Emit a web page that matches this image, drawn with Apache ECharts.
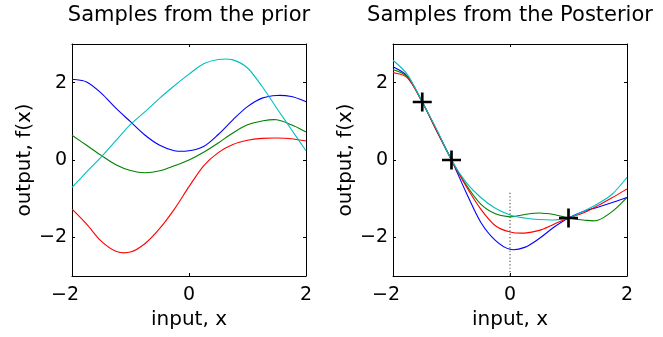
<!DOCTYPE html>
<html>
<head>
<meta charset="utf-8">
<script src="https://cdn.jsdelivr.net/npm/echarts@6/dist/echarts.min.js"></script>
<style>
  html, body { margin: 0; padding: 0; background: #fff; }
  #chart { width: 663px; height: 337px; }
</style>
</head>
<body>
<div id="chart"></div>
<script>
// ---- data ----
const xs = [-2, -1.75, -1.5, -1.25, -1, -0.75, -0.5, -0.25, 0, 0.25, 0.5, 0.75, 1, 1.25, 1.5, 1.75, 2];

const priorBlue  = [2.09, 2.02, 1.73, 1.34, 0.99, 0.64, 0.38, 0.24, 0.24, 0.35, 0.66, 1.04, 1.38, 1.60, 1.67, 1.64, 1.51];
const priorGreen = [0.64, 0.38, 0.12, -0.12, -0.27, -0.33, -0.28, -0.15, 0.0, 0.2, 0.44, 0.70, 0.91, 1.01, 1.04, 0.91, 0.73];
const priorRed   = [-1.27, -1.66, -2.10, -2.36, -2.38, -2.16, -1.77, -1.27, -0.69, -0.15, 0.19, 0.40, 0.51, 0.56, 0.57, 0.55, 0.49];
const priorCyan  = [-0.71, -0.31, 0.08, 0.50, 0.92, 1.25, 1.60, 1.92, 2.22, 2.49, 2.60, 2.59, 2.38, 1.90, 1.34, 0.79, 0.24];

const postBlue  = [2.41, 2.16, 1.5, 0.75, 0, -0.84, -1.61, -2.08, -2.31, -2.26, -2.03, -1.74, -1.5, -1.33, -1.22, -1.10, -0.97];
const postGreen = [2.34, 2.14, 1.5, 0.75, 0, -0.64, -1.14, -1.39, -1.47, -1.41, -1.37, -1.41, -1.5, -1.55, -1.56, -1.33, -0.97];
const postRed   = [2.26, 2.12, 1.5, 0.74, 0, -0.68, -1.27, -1.70, -1.86, -1.89, -1.82, -1.66, -1.5, -1.37, -1.18, -0.97, -0.75];
const postCyan  = [2.58, 2.20, 1.5, 0.78, 0, -0.58, -0.97, -1.25, -1.42, -1.50, -1.54, -1.55, -1.5, -1.33, -1.13, -0.88, -0.45];

const obsX = [-1.5, -1, 1];
const obsY = [1.5, 0, -1.5];

const dotX = [0, 0];
const dotY = [-0.85, -3];

const titles = ['Samples from the prior', 'Samples from the Posterior'];
const xName = 'input, x';
const yName = 'output, f(x)';
const tickVals = [-2, 0, 2];

// ---- build ----
const FONT = 'DejaVu Sans';
const zip = (a, b) => a.map((v, i) => [v, b[i]]);
const fmt = v => v < 0 ? '\u2212' + (-v) : String(v);
const COLORS = { blue: '#0000ff', green: '#008000', red: '#ff0000', cyan: '#00bfbf' };

const grids = [
  { left: 72, top: 42, width: 234, height: 234 },
  { left: 393, top: 42, width: 234, height: 234 }
];

const xAxes = [], yAxes = [];
const yGaps = [36, 33];
grids.forEach((g, i) => {
  xAxes.push({
    type: 'value', gridIndex: i, position: 'bottom', min: -2, max: 2, interval: 2,
    axisLine: { show: true, onZero: false, lineStyle: { color: '#000', width: 1 } },
    axisTick: { show: true, inside: true, length: 3, lineStyle: { color: '#000' } },
    splitLine: { show: false },
    axisLabel: {
      margin: 10, color: '#000',
      formatter: v => v < 0 ? '{n|' + fmt(v) + '}' : '{p|' + fmt(v) + '}',
      rich: {
        n: { fontFamily: FONT, fontSize: 19, color: '#000', padding: [0, 14, 0, 0] },
        p: { fontFamily: FONT, fontSize: 19, color: '#000' }
      }
    },
    name: xName, nameLocation: 'middle', nameGap: 31,
    nameTextStyle: { fontFamily: FONT, fontSize: 20, color: '#000' }
  });
  xAxes.push({
    type: 'value', gridIndex: i, position: 'top', min: -2, max: 2, interval: 2,
    axisLine: { show: true, onZero: false, lineStyle: { color: '#000', width: 1 } },
    axisTick: { show: true, inside: true, length: 3, lineStyle: { color: '#000' } },
    splitLine: { show: false },
    axisLabel: { show: false },
    name: titles[i], nameLocation: 'middle', nameGap: 18,
    nameTextStyle: { fontFamily: FONT, fontSize: 21, color: '#000' }
  });
  yAxes.push({
    type: 'value', gridIndex: i, position: 'left', min: -3, max: 3,
    axisLine: { show: true, onZero: false, lineStyle: { color: '#000', width: 1 } },
    axisTick: { show: true, inside: true, length: 3, customValues: tickVals, lineStyle: { color: '#000' } },
    splitLine: { show: false },
    axisLabel: { customValues: tickVals, formatter: fmt, margin: 5, color: '#000', fontFamily: FONT, fontSize: 19 },
    name: yName, nameLocation: 'middle', nameRotate: 90, nameGap: yGaps[i],
    nameTextStyle: { fontFamily: FONT, fontSize: 20, color: '#000' }
  });
  yAxes.push({
    type: 'value', gridIndex: i, position: 'right', min: -3, max: 3,
    axisLine: { show: true, onZero: false, lineStyle: { color: '#000', width: 1 } },
    axisTick: { show: true, inside: true, length: 3, customValues: tickVals, lineStyle: { color: '#000' } },
    splitLine: { show: false },
    axisLabel: { show: false }
  });
});

// smooth curve through the data points, positioned with the axes' own scales (api.coord)
function curve(ys, color, gi) {
  return {
    type: 'custom', coordinateSystem: 'cartesian2d',
    xAxisIndex: gi * 2, yAxisIndex: gi * 2,
    data: zip(xs, ys), encode: { x: 0, y: 1 }, silent: true, animation: false,
    renderItem: function (params, api) {
      if (params.dataIndex !== 0) return null;
      const p = xs.map((x, i) => api.coord([x, ys[i]]));
      let d = 'M' + p[0][0] + ',' + p[0][1];
      for (let i = 0; i < p.length - 1; i++) {
        const p0 = p[i - 1] || p[i], p1 = p[i], p2 = p[i + 1], p3 = p[i + 2] || p[i + 1];
        const c1x = p1[0] + (p2[0] - p0[0]) / 6, c1y = p1[1] + (p2[1] - p0[1]) / 6;
        const c2x = p2[0] - (p3[0] - p1[0]) / 6, c2y = p2[1] - (p3[1] - p1[1]) / 6;
        d += ' C' + c1x + ',' + c1y + ' ' + c2x + ',' + c2y + ' ' + p2[0] + ',' + p2[1];
      }
      return {
        type: 'path', shape: { pathData: d },
        style: { stroke: color, fill: 'none', lineWidth: 1.1 }
      };
    }
  };
}

const series = [
  curve(priorBlue, COLORS.blue, 0),
  curve(priorGreen, COLORS.green, 0),
  curve(priorRed, COLORS.red, 0),
  curve(priorCyan, COLORS.cyan, 0),
  {
    type: 'line', xAxisIndex: 2, yAxisIndex: 2, data: zip(dotX, dotY), symbol: 'none',
    lineStyle: { color: '#555', width: 1.2, type: [1.2, 2.2] }, animation: false, silent: true
  },
  curve(postBlue, COLORS.blue, 1),
  curve(postGreen, COLORS.green, 1),
  curve(postRed, COLORS.red, 1),
  curve(postCyan, COLORS.cyan, 1),
  {
    type: 'scatter', xAxisIndex: 2, yAxisIndex: 2, data: zip(obsX, obsY),
    symbol: 'path://M-1,-0.14 L1,-0.14 L1,0.14 L-1,0.14 Z M-0.14,-1 L0.14,-1 L0.14,1 L-0.14,1 Z',
    symbolSize: 19, itemStyle: { color: '#000', opacity: 1 }, animation: false, silent: true, z: 10
  }
];

const chart = echarts.init(document.getElementById('chart'), null, { renderer: 'canvas' });
chart.setOption({
  animation: false,
  backgroundColor: '#fff',
  grid: grids,
  xAxis: xAxes,
  yAxis: yAxes,
  series: series
});
</script>
</body>
</html>
